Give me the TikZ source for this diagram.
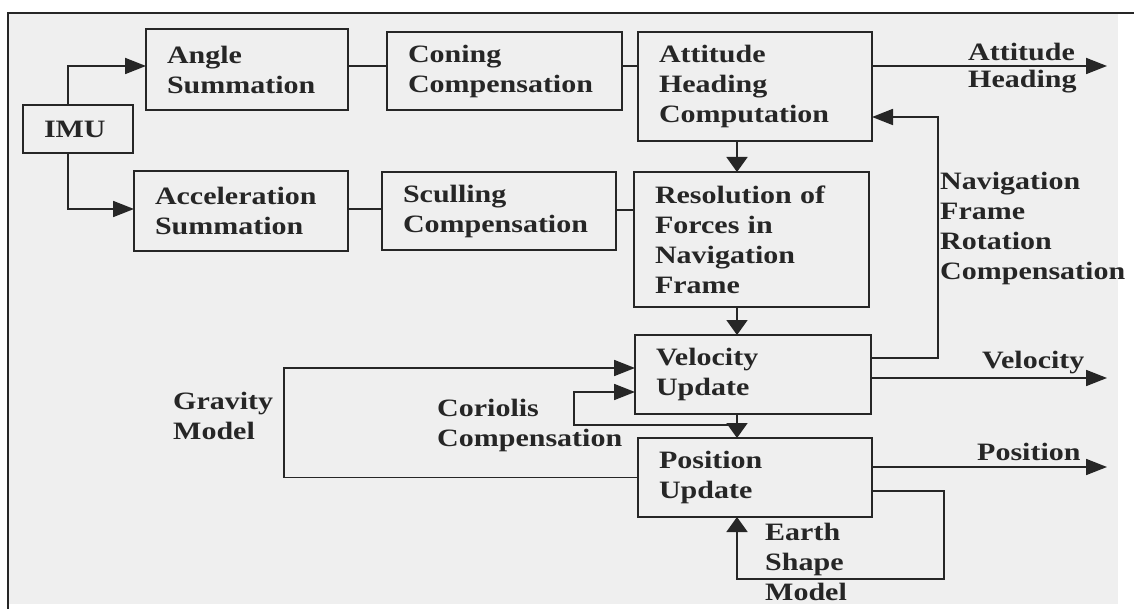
\documentclass[tikz,border=0pt]{standalone}
\usepackage{fontspec}
\setmainfont{Liberation Serif}[FakeStretch=1.2]
\usetikzlibrary{arrows.meta}
\definecolor{ink}{HTML}{262626}
\definecolor{paper}{HTML}{EFEFEF}
\begin{document}
\begin{tikzpicture}[x=1pt,y=-1pt,
  every node/.style={font=\fontsize{25}{30}\selectfont\bfseries, text=ink},
  box/.style={draw=ink, line width=1.8pt, inner xsep=21pt, inner ysep=0pt, outer sep=0pt, align=left},
  lbl/.style={inner sep=0pt, align=left, anchor=north west},
  conn/.style={draw=ink, line width=1.8pt},
  harr/.style={conn, -{Triangle[length=21pt,width=16pt]}},
  varr/.style={conn, -{Triangle[length=15pt,width=21pt]}},
]
\useasboundingbox (0,0) rectangle (1134,609);
\fill[paper] (8,13) rectangle (1118,604);
\draw[ink, line width=1.8pt] (1134,13) -- (8,13) -- (8,609);

% boxes
\node[box, text width=68pt,  minimum height=48pt]  (imu)      at (78,129)    {IMU};
\node[box, text width=160pt, minimum height=81pt]  (angle)    at (247,69.5)  {Angle\\Summation};
\node[box, text width=172pt, minimum height=80pt]  (accel)    at (241,211)   {Acceleration\\Summation};
\node[box, text width=193pt, minimum height=78pt]  (coning)   at (504.5,71)  {Coning\\Compensation};
\node[box, text width=192pt, minimum height=78pt]  (sculling) at (499,211)   {Sculling\\Compensation};
\node[box, text width=192pt, minimum height=109pt] (attitude) at (755,86.5)  {Attitude\\Heading\\Computation};
\node[box, text width=193pt, minimum height=135pt] (res)      at (751.5,239.5) {Resolution of\\Forces in\\Navigation\\Frame};
\node[box, text width=194pt, minimum height=79pt]  (vel)      at (753,374.5) {Velocity\\Update};
\node[box, text width=192pt, minimum height=79pt]  (pos)      at (755,477.5) {Position\\Update};

% free labels
\node[lbl] (gravlbl)  at (173,392) {Gravity\\Model};
\node[lbl] (corlbl)   at (437,399) {Coriolis\\Compensation};
\node[lbl] (navlbl)   at (940,172) {Navigation\\Frame\\Rotation\\Compensation};
\node[lbl] (earthlbl) at (765,523) {Earth\\Shape\\Model};
\node[lbl, font=\fontsize{25}{27}\selectfont\bfseries] (attout) at (968,43) {Attitude\\Heading};
\node[inner sep=0pt, anchor=base west] (velout) at (982,368) {Velocity};
\node[inner sep=0pt, anchor=base west] (posout) at (977,460) {Position};

% helper coordinates
\coordinate (spine) at (737,0);
\coordinate (outx)  at (1107,0);
\coordinate (cor)   at (574,425);
\coordinate (grav)  at (284,368);
\coordinate (earth) at (944,579);
\coordinate (navr)  at (938,117);

% connectors
\draw[harr] ([xshift=-10pt]imu.north) |- ([yshift=3.5pt]angle.west);
\draw[harr] ([xshift=-10pt]imu.south) |- ([yshift=2pt]accel.west);
\draw[conn] ([yshift=3.5pt]angle.east) -- ([yshift=3.5pt]angle.east -| coning.west);
\draw[conn] ([yshift=5pt]coning.east) -- ([yshift=5pt]coning.east -| attitude.west);
\draw[conn] ([yshift=2pt]accel.east) -- ([yshift=2pt]accel.east -| sculling.west);
\draw[conn] ([yshift=1pt]sculling.east) -- ([yshift=1pt]sculling.east -| res.west);
\draw[varr] (attitude.south -| spine) -- (res.north -| spine);
\draw[varr] (res.south -| spine) -- (vel.north -| spine);
\draw[varr] (vel.south -| spine) -- (pos.north -| spine);
\draw[harr] (cor -| spine) -- (cor) |- ([yshift=-17.5pt]vel.west);
\draw[harr] (pos.west) -| (grav) -- ([yshift=6.5pt]vel.west);
\draw[varr] ([yshift=-13.5pt]pos.east) -| (earth) -| (pos.south -| spine);
\draw[harr] ([yshift=16.5pt]vel.east) -| (navr) -- (navr -| attitude.east);
\draw[harr] ([yshift=20.5pt]attitude.east) -- ([yshift=20.5pt]attitude.east -| outx);
\draw[harr] ([yshift=-3.5pt]vel.east) -- ([yshift=-3.5pt]vel.east -| outx);
\draw[harr] ([yshift=10.5pt]pos.east) -- ([yshift=10.5pt]pos.east -| outx);
\end{tikzpicture}
\end{document}
